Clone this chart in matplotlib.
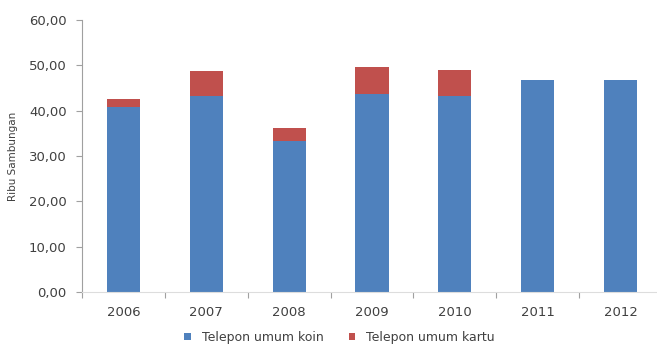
import matplotlib
matplotlib.use("Agg")
import matplotlib.pyplot as plt
import numpy as np

years = ["2006", "2007", "2008", "2009", "2010", "2011", "2012"]
koin = [40.9, 43.2, 33.2, 43.6, 43.2, 46.7, 46.7]
kartu = [1.6, 5.5, 3.0, 6.0, 5.7, 0.0, 0.0]
yticks = [0, 10, 20, 30, 40, 50, 60]
ytick_labels = ["0,00", "10,00", "20,00", "30,00", "40,00", "50,00", "60,00"]

blue = "#4F81BD"
red = "#C0504D"
text_col = "#404040"
axis_col = "#A0A0A0"

plt.rcParams["font.family"] = ["DejaVu Sans"]

fig = plt.figure(figsize=(6.57, 3.45), dpi=100)
ax = fig.add_axes([82 / 657, 53 / 345, 580 / 657, 272 / 345])

x = np.arange(len(years))
w = 0.4
ax.bar(x, koin, width=w, color=blue, label="Telepon umum koin", zorder=2)
ax.bar(x, kartu, width=w, bottom=koin, color=red, label="Telepon umum kartu", zorder=2)

ax.set_xlim(-0.5, len(years) - 0.5)
ax.set_ylim(0, 60)
ax.set_yticks(yticks)
ax.set_yticklabels(ytick_labels, fontsize=9.5, color=text_col)
ax.set_xticks(x)
ax.set_xticklabels(years, fontsize=9.5, color=text_col)
ax.tick_params(axis="x", length=0, pad=10)
ax.set_xticks(np.arange(-0.5, len(years), 1.0), minor=True)
ax.tick_params(axis="x", which="minor", length=4, color=axis_col, width=0.8)
ax.tick_params(axis="y", length=4, color=axis_col, width=0.8, pad=7)

for side in ["top", "right"]:
    ax.spines[side].set_visible(False)
ax.spines["left"].set_color(axis_col)
ax.spines["bottom"].set_color("#DDDDDD")
ax.spines["left"].set_linewidth(0.8)
ax.spines["bottom"].set_linewidth(0.8)

ax.set_ylabel("Ribu Sambungan", fontsize=7.5, color=text_col, labelpad=8)

fig.legend(loc="center", bbox_to_anchor=(0.517, 8 / 345), ncol=2, frameon=False,
           fontsize=9, handlelength=0.5, handleheight=0.5, columnspacing=2.0,
           handletextpad=0.9, labelcolor=text_col)

fig.savefig("out.png", dpi=100)
